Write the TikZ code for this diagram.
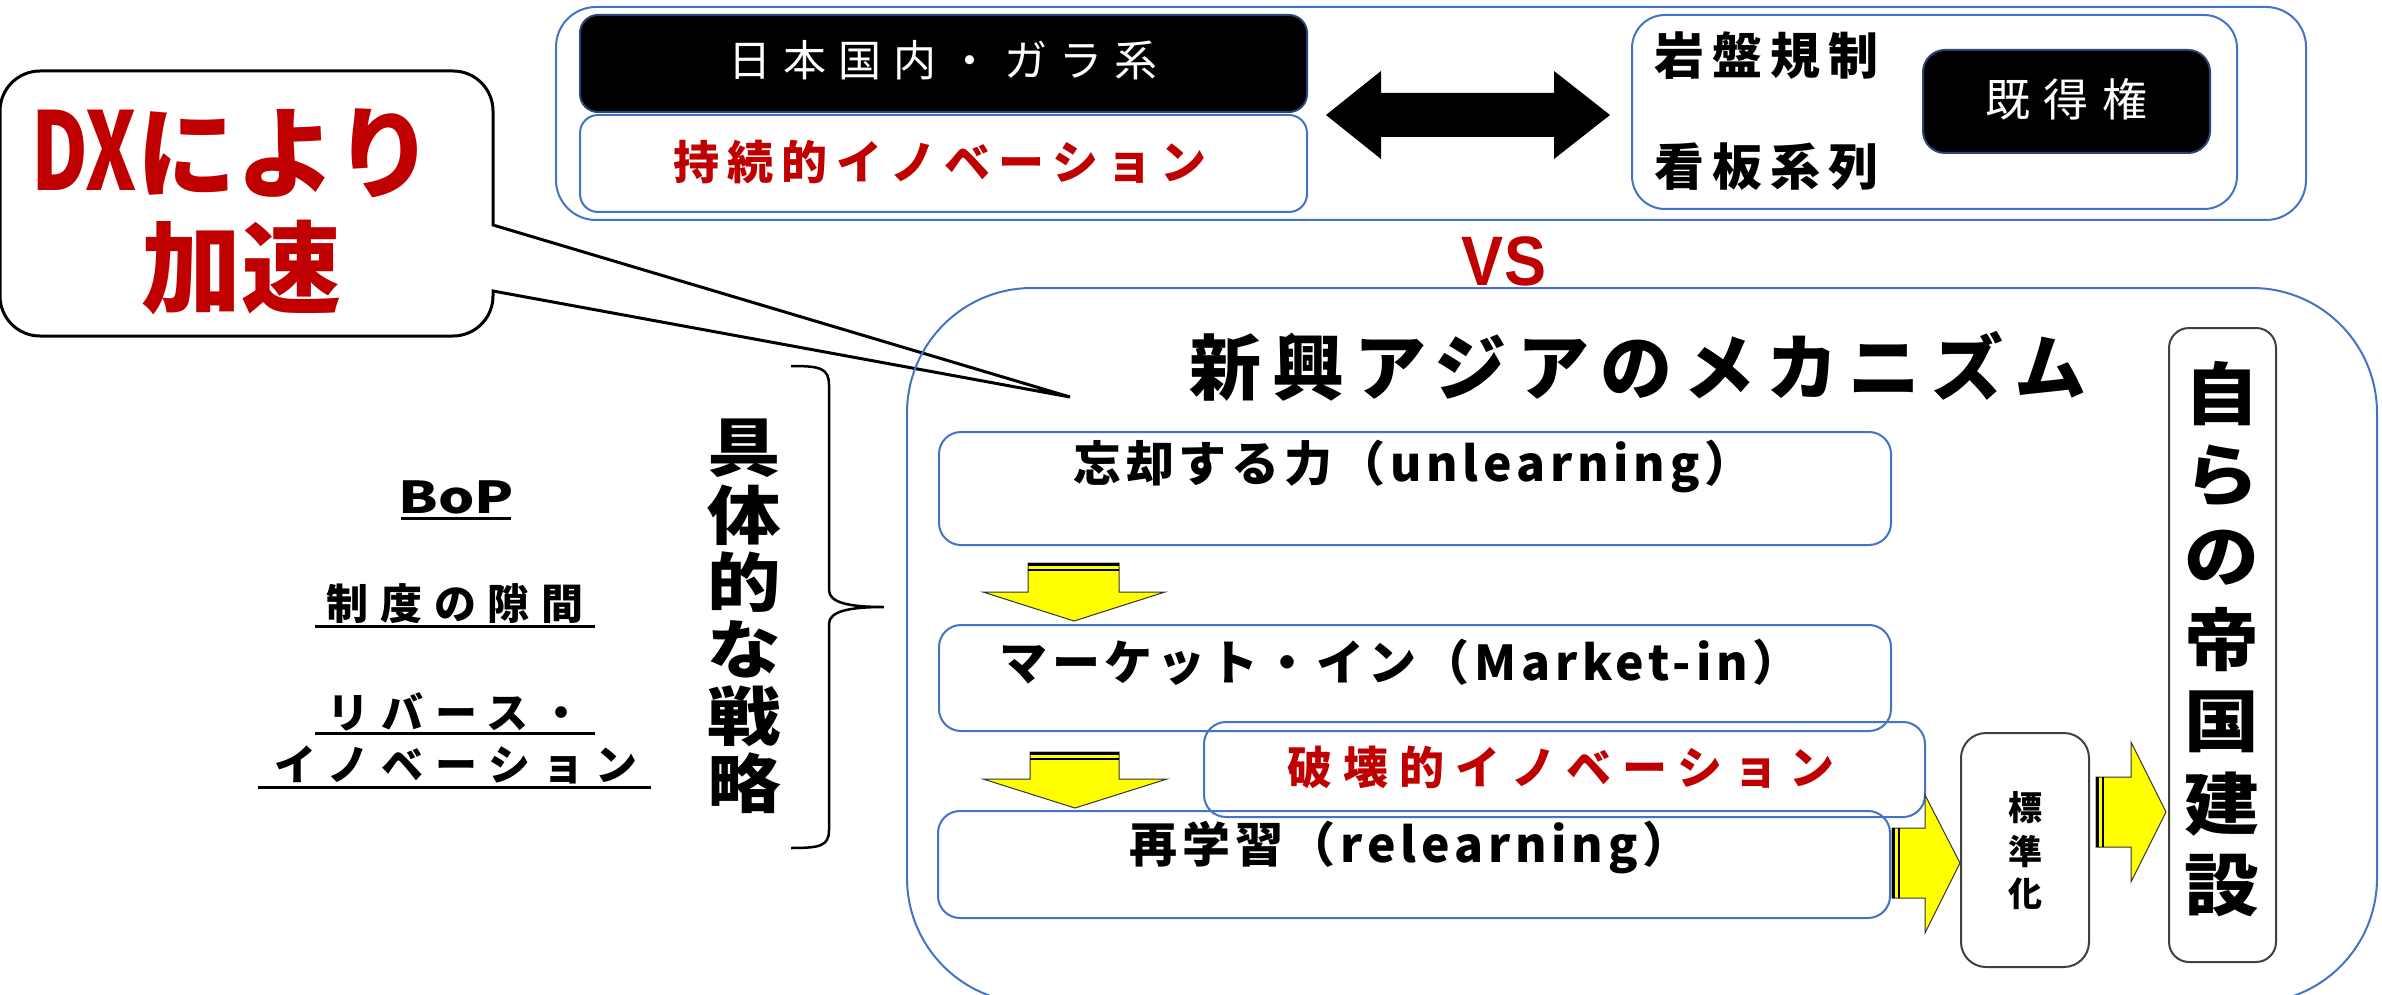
\documentclass[tikz,border=0pt]{standalone}
\usepackage{fontspec}
\usepackage{graphicx}
\newfontfamily\jp{Noto Sans CJK JP}
\newfontfamily\vsfont{Liberation Sans}
\definecolor{bl}{RGB}{68,114,196}
\definecolor{rd}{RGB}{192,0,0}
\definecolor{yl}{RGB}{255,255,0}
\definecolor{dg}{RGB}{64,64,64}
\newcommand{\tx}[3]{\scalebox{#2}[1]{\fontsize{#1pt}{#1pt}\selectfont #3}}
% font size, letter spacing, text
\newcommand{\lsp}[3]{{\fontsize{#1pt}{#1pt}\selectfont\addfontfeatures{LetterSpace=#2}#3}}
\begin{document}
\begin{tikzpicture}[x=1pt,y=-1pt,font=\jp,
  box/.style={draw=bl,line width=2pt,rounded corners=#1,inner sep=0pt},
  blackbox/.style={draw=bl!60!black,fill=black,line width=2pt,rounded corners=#1,inner sep=0pt},
  greybox/.style={draw=dg,line width=2pt,rounded corners=#1,inner sep=0pt},
  txt/.style={inner sep=0pt},
  yarrow/.style={fill=yl,draw=black!80,line width=1pt,line join=miter},
  stripe/.style={fill=black}]
\useasboundingbox (0,0) rectangle (2382,995);

% ---- top group
\node[box=40pt,minimum width=1750pt,minimum height=213pt] (topouter) at (1431,113.5) {};
\node[blackbox=18pt,minimum width=727pt,minimum height=97pt] (gara) at (943.5,63.5) {};
\node[box=18pt,minimum width=727pt,minimum height=97pt] (jizoku) at (943.5,163.5) {};
\node[box=33pt,minimum width=605pt,minimum height=194pt] (ganbanbox) at (1934.5,112) {};
\node[blackbox=22pt,minimum width=287pt,minimum height=103pt] (kitoku) at (2066.5,101.5) {};

\node[txt,text=white] (garat) at (943,60) {\lsp{43}{28}{日本国内・ガラ系}};
\node[txt,text=rd] (jizokut) at (940,162) {\bfseries\lsp{46}{18}{持続的イノベーション}};
\node[txt] (ganban) at (1766,56) {\bfseries\lsp{50}{16}{岩盤規制}};
\node[txt] (kanban) at (1766,167) {\bfseries\lsp{50}{16}{看板系列}};
\node[txt,text=white] (kitokut) at (2066,99) {\lsp{45}{30}{既得権}};

% double arrow
\fill[black] (1326,115) -- (1381,71) -- (1381,93) -- (1554,93) -- (1554,71) -- (1610,115)
  -- (1554,159) -- (1554,137) -- (1381,137) -- (1381,159) -- cycle;

% VS
\node[txt,text=rd] (vs) at (1504,261) {\scalebox{0.9}[1]{\vsfont\fontsize{70pt}{70pt}\selectfont\bfseries VS}};

% ---- callout
\coordinate (tip) at (1070,397);
\draw[line width=3pt,line join=miter] (0,111) arc[start angle=180,end angle=270,radius=40]
  -- (453,71) arc[start angle=270,end angle=360,radius=40]
  -- (493,225) -- (tip) -- (493,291) -- (493,296)
  arc[start angle=0,end angle=90,radius=40] -- (40,336)
  arc[start angle=90,end angle=180,radius=40] -- cycle;
\node[txt,text=rd] (dx) at (233,153) {\fontsize{100pt}{100pt}\selectfont\bfseries\scalebox{0.78}[1.08]{DX}により};
\node[txt,text=rd] (kasoku) at (241,268) {\tx{100}{1.0}{\bfseries 加速}};

% ---- left list
\node[txt] (bop) at (456,497) {\tx{44}{1.3}{\bfseries BoP}};
\node[txt] (seido) at (455,604) {\bfseries\lsp{42}{28}{制度の隙間}};
\node[txt] (rev1) at (455,712) {\bfseries\lsp{42}{28}{リバース・}};
\node[txt] (rev2) at (456,765) {\bfseries\lsp{42}{28}{イノベーション}};
\draw[line width=3pt] (401,518) -- (511,518);
\draw[line width=3pt] (315,626) -- (595,626);
\draw[line width=3pt] (315,733) -- (595,733);
\draw[line width=3pt] (258,787) -- (651,787);

% brace
\draw[line width=2.5pt] (791,366) .. controls (820,366) and (829,368) .. (829,385)
  -- (829,590) .. controls (829,603) and (850,607) .. (884,607)
  .. controls (850,607) and (829,611) .. (829,624)
  -- (829,830) .. controls (829,846) and (820,848) .. (791,848);
\foreach \c [count=\i from 0] in {具,体,的,な,戦,略}
  \node[txt] (gu\i) at (744,448+67*\i) {\tx{64}{1.15}{\bfseries\c}};

% ---- big box
\node[box=125pt,minimum width=1470pt,minimum height=715pt] (asia) at (1642,645.5) {};
\node[txt] (title) at (1638,366) {\bfseries\lsp{72}{15}{新興アジアのメカニズム}};

\node[box=22pt,minimum width=952pt,minimum height=113pt] (unlearn) at (1415,488.5) {};
\node[box=22pt,minimum width=952pt,minimum height=106pt] (market) at (1415,678) {};
\node[box=22pt,minimum width=721pt,minimum height=95pt] (hakai) at (1564.5,769.5) {};
\node[box=22pt,minimum width=952pt,minimum height=107pt] (relearn) at (1414,864.5) {};

\node[txt] (unlearnt) at (1413,467) {\bfseries\lsp{48}{10}{忘却する力（unlearning）}};
\node[txt] (markett) at (1400,662) {\bfseries\lsp{48}{10}{マーケット・イン（Market-in）}};
\node[txt,text=rd] (hakait) at (1561,767) {\bfseries\lsp{45}{24}{破壊的イノベーション}};
\node[txt] (relearnt) at (1410,848) {\bfseries\lsp{48}{10}{再学習（relearning）}};

% yellow arrows
\filldraw[yarrow] (1028,563) -- (1119,563) -- (1119,592) -- (1165,592) -- (1074,621) -- (983,592) -- (1028,592) -- cycle;
\fill[stripe] (1028,563) rectangle (1119,566);
\fill[stripe] (1028,568.5) rectangle (1119,571);
\filldraw[yarrow] (1030,752) -- (1119,752) -- (1119,779) -- (1167,779) -- (1075,808) -- (983,779) -- (1030,779) -- cycle;
\fill[stripe] (1030,752) rectangle (1119,755);
\fill[stripe] (1030,757.5) rectangle (1119,760);
\filldraw[yarrow] (1892,828) -- (1925,828) -- (1925,795) -- (1960,863) -- (1925,933) -- (1925,898) -- (1892,898) -- cycle;
\fill[stripe] (1892,828) rectangle (1895,898);
\fill[stripe] (1897.5,828) rectangle (1900,898);
\filldraw[yarrow] (2096,777) -- (2131,777) -- (2131,742) -- (2166,812) -- (2131,882) -- (2131,847) -- (2096,847) -- cycle;
\fill[stripe] (2096,777) rectangle (2099,847);
\fill[stripe] (2101.5,777) rectangle (2104,847);

% standardisation and empire boxes
\node[greybox=25pt,minimum width=128pt,minimum height=234pt] (hyojun) at (2025,850) {};
\foreach \c [count=\i from 0] in {標,準,化}
  \node[txt] (hy\i) at (2025,808+43*\i) {\tx{34}{1.0}{\bfseries\c}};
\node[greybox=20pt,minimum width=107pt,minimum height=634pt] (teikoku) at (2222.5,645) {};
\foreach \c [count=\i from 0] in {自,ら,の,帝,国,建,設}
  \node[txt] (te\i) at (2222,394+82*\i) {\tx{68}{1.1}{\bfseries\c}};
\end{tikzpicture}
\end{document}
